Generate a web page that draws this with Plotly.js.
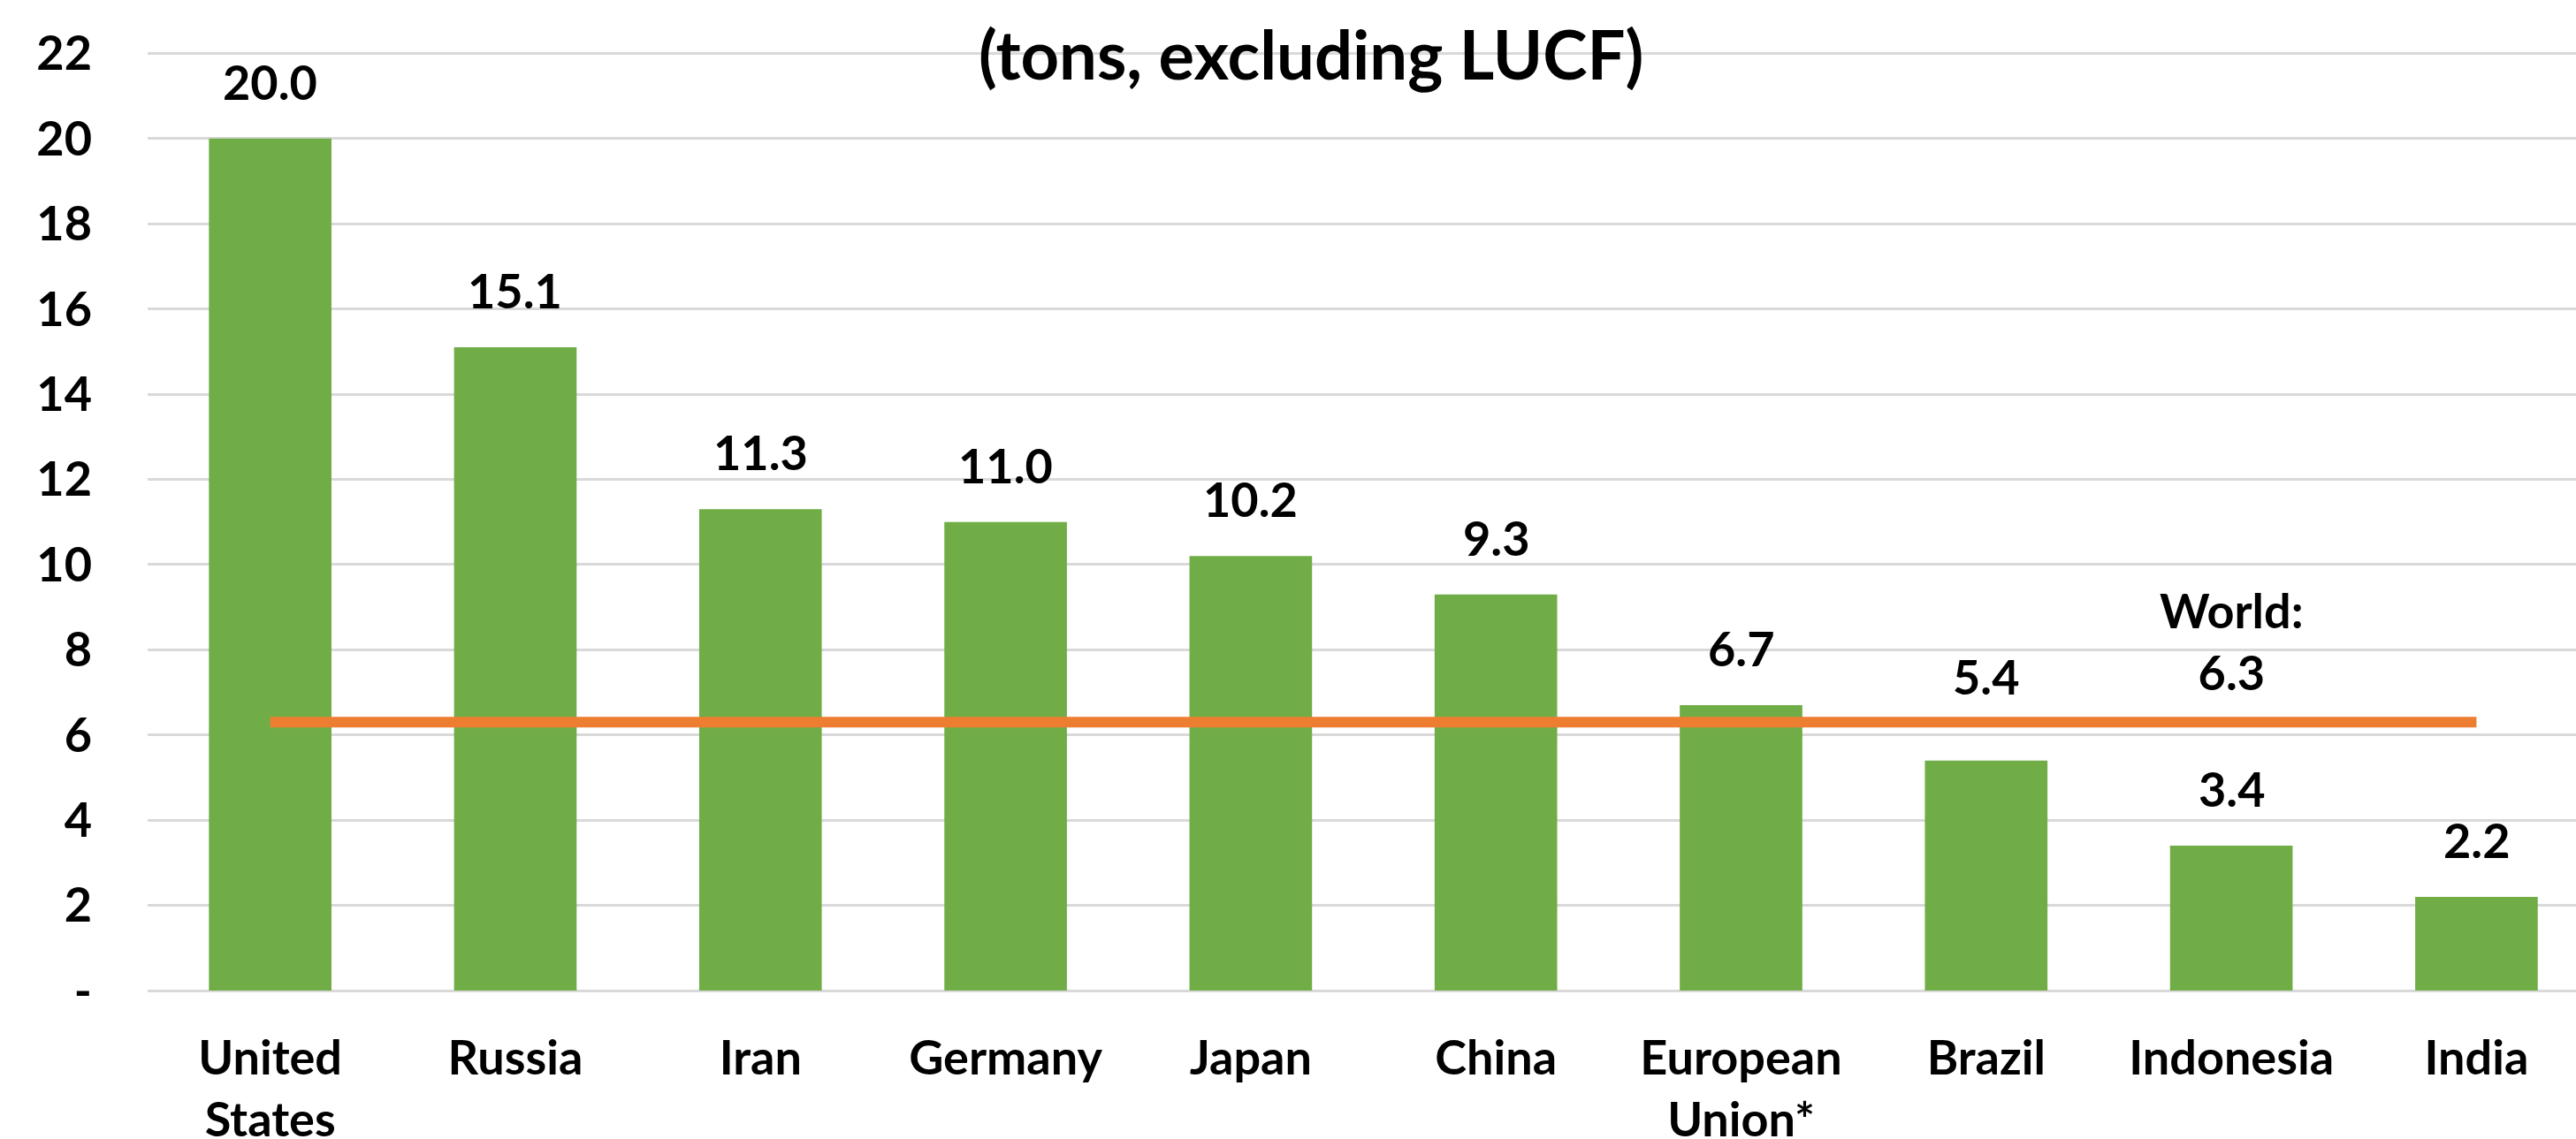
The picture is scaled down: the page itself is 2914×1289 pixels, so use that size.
<!DOCTYPE html>
<html>
<head>
<meta charset="utf-8">
<script src="https://cdn.plot.ly/plotly-3.0.1.min.js"></script>
<style>
  html, body { margin: 0; padding: 0; background: #ffffff; overflow: hidden; }
  #chart { width: 2914px; height: 1289px; }
</style>
</head>
<body>
<div id="chart"></div>
<script>
// ---- data ----
const countries = ["United States", "Russia", "Iran", "Germany", "Japan", "China", "European Union*", "Brazil", "Indonesia", "India"];
const categoryLabels = ["United<br>States", "Russia", "Iran", "Germany", "Japan", "China", "European<br>Union*", "Brazil", "Indonesia", "India"];
const emissionsPerCapita = [20.0, 15.1, 11.3, 11.0, 10.2, 9.3, 6.7, 5.4, 3.4, 2.2];
const worldAverage = [6.3, 6.3, 6.3, 6.3, 6.3, 6.3, 6.3, 6.3, 6.3, 6.3];
const worldLabelCountry = "Indonesia";
const worldLabelValue = 6.3;
const yTickValues = [0, 2, 4, 6, 8, 10, 12, 14, 16, 18, 20, 22];
const yTickLabels = ["-", "2", "4", "6", "8", "10", "12", "14", "16", "18", "20", "22"];
const titleText = "(tons, excluding LUCF)";

// ---- styles ----
const FONT = "Lato, 'Open Sans', sans-serif";
const BAR_COLOR = "#70ad47";
const LINE_COLOR = "#ed7d31";
const GRID_COLOR = "#d9d9d9";
const LABEL_SHIFT = 30;
// the Brazil label sits higher in the original, clear of the world line
const extraLabelShift = { "Brazil": 31 };

const bars = {
  type: "bar",
  x: countries,
  y: emissionsPerCapita,
  marker: { color: BAR_COLOR, line: { width: 0 } },
  hoverinfo: "x+y",
  showlegend: false
};

const worldLine = {
  type: "scatter",
  mode: "lines",
  x: countries,
  y: worldAverage,
  line: { color: LINE_COLOR, width: 12 },
  hoverinfo: "y",
  showlegend: false
};

const annotations = countries.map((c, i) => ({
  x: c,
  y: emissionsPerCapita[i],
  xref: "x",
  yref: "y",
  text: emissionsPerCapita[i].toFixed(1),
  showarrow: false,
  xanchor: "center",
  yanchor: "bottom",
  yshift: LABEL_SHIFT + (extraLabelShift[c] || 0),
  font: { family: FONT, size: 54, color: "#000000", weight: 700 }
}));

annotations.push({
  x: worldLabelCountry,
  y: worldLabelValue,
  xref: "x",
  yref: "y",
  text: "World:<br>" + worldLabelValue.toFixed(1),
  showarrow: false,
  xanchor: "center",
  yanchor: "bottom",
  yshift: 22,
  align: "center",
  font: { family: FONT, size: 54, color: "#000000", weight: 700 }
});

const layout = {
  width: 2914,
  height: 1289,
  paper_bgcolor: "#ffffff",
  plot_bgcolor: "#ffffff",
  margin: { l: 167, r: 0, t: 59, b: 168, pad: 0 },
  bargap: 0.5,
  title: {
    text: titleText,
    font: { family: FONT, size: 76, color: "#000000", weight: 700 },
    xref: "container",
    yref: "container",
    x: 0.509,
    xanchor: "center",
    y: 0.951,
    yanchor: "middle"
  },
  xaxis: {
    type: "category",
    range: [-0.5, 9.406],
    tickvals: countries,
    ticktext: categoryLabels,
    showgrid: false,
    showline: false,
    zeroline: false,
    ticks: "",
    ticklabelstandoff: 40,
    tickfont: { family: FONT, size: 54, color: "#000000", weight: 700 }
  },
  yaxis: {
    range: [0, 22.03],
    tickvals: yTickValues,
    ticktext: yTickLabels,
    showgrid: true,
    gridcolor: GRID_COLOR,
    gridwidth: 3,
    zeroline: true,
    zerolinecolor: GRID_COLOR,
    zerolinewidth: 3,
    showline: false,
    ticks: "",
    ticklabelstandoff: 62,
    tickfont: { family: FONT, size: 54, color: "#000000", weight: 700 }
  },
  annotations: annotations,
  showlegend: false
};

Plotly.newPlot("chart", [bars, worldLine], layout, { displayModeBar: false, staticPlot: true });
</script>
</body>
</html>
